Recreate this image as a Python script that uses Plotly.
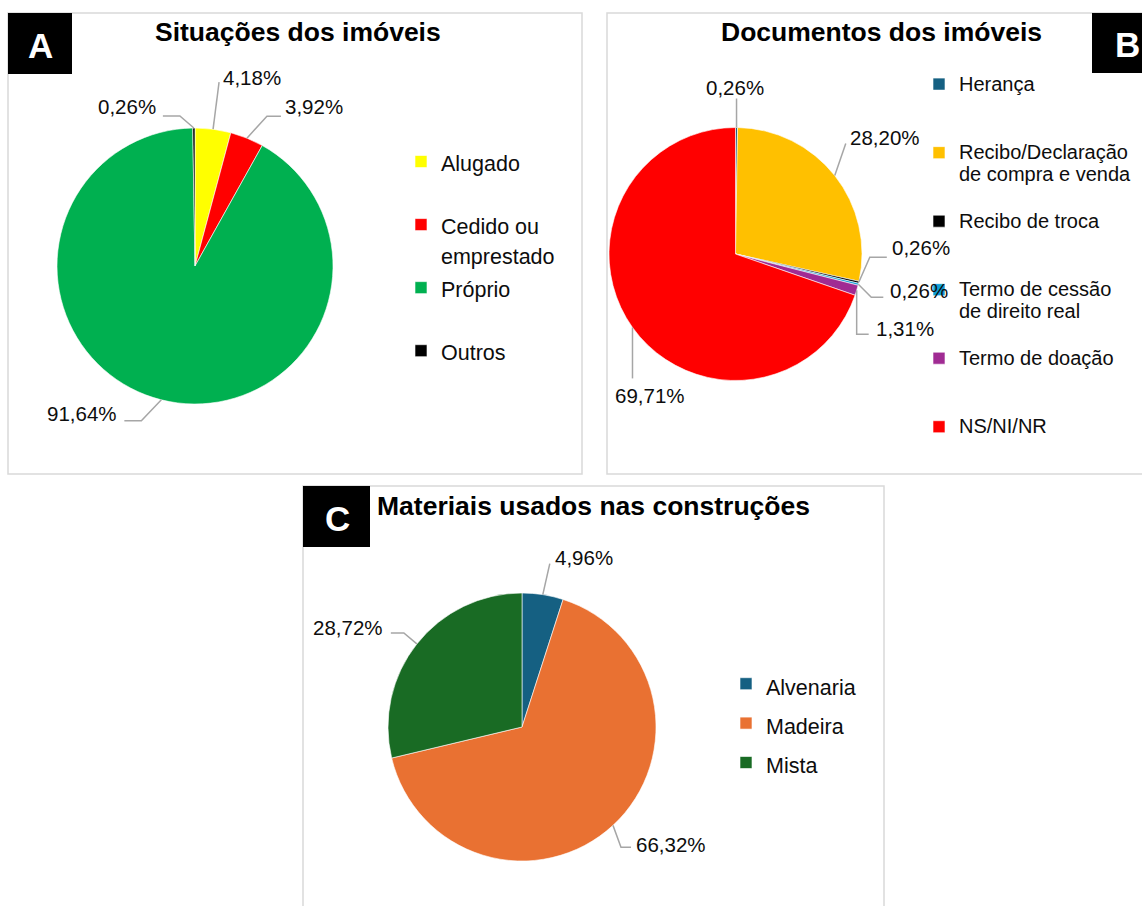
import math
import plotly.graph_objects as go

# ---------------- data ----------------
cat_A = ["Alugado", "Cedido ou emprestado", "Próprio", "Outros"]
val_A = [4.18, 3.92, 91.64, 0.26]

cat_B = ["Herança", "Recibo/Declaração de compra e venda", "Recibo de troca",
         "Termo de cessão de direito real", "Termo de doação", "NS/NI/NR"]
val_B = [0.26, 28.20, 0.26, 0.26, 1.31, 69.71]

cat_C = ["Alvenaria", "Madeira", "Mista"]
val_C = [4.96, 66.32, 28.72]

title_A = "Situações dos imóveis"
title_B = "Documentos dos imóveis"
title_C = "Materiais usados nas construções"

# ---------------- style ----------------
W, H = 1142, 906
FONT = "Liberation Sans, Arial, sans-serif"
TXT = "#0d0d0d"
LEADER = "#A6A6A6"
NB = "\u00a0"

col_A = ["#FFFF00", "#FF0000", "#00B050", "#000000"]
col_B = ["#156082", "#FFC000", "#000000", "#0F9ED5", "#A02B93", "#FF0000"]
col_C = ["#156082", "#E97132", "#196B24"]

# legend line wrapping (display only)
wrap = {
    "Alugado": ["Alugado", NB],
    "Cedido ou emprestado": ["Cedido ou", "emprestado"],
    "Próprio": ["Próprio", NB],
    "Outros": ["Outros", NB],
    "Herança": ["Herança", NB, NB],
    "Recibo/Declaração de compra e venda": ["Recibo/Declaração", "de compra e venda", NB],
    "Recibo de troca": ["Recibo de troca", NB, NB],
    "Termo de cessão de direito real": ["Termo de cessão", "de direito real", NB],
    "Termo de doação": ["Termo de doação", NB, NB],
    "NS/NI/NR": ["NS/NI/NR", NB, NB],
}


def leg_label(c, size):
    lines = wrap.get(c, [c])
    return "<br>".join(f"<span style='font-size:{size}px'>{l}</span>" for l in lines)


# pie geometry in pixels (center x, center y, radius)
geo_A = (195, 266, 138)
geo_B = (735.5, 254, 126.5)
geo_C = (522, 727, 134)

# label leader style per slice: (bend dx, bend dy, horizontal run, text anchor, text dx, text dy)
lead_A = [(6, -47, 0, "left", 2, -5), (20, -22, 14, "left", 2, -10),
          (-20, 21, -17, "right", -5, -7), (-14, -12, -17, "right", -5, -10)]
lead_B = [(0, -29, 0, "center", -2, -11), (11, -32, 0, "left", 2, -6),
          (11, -25, 17, "left", 3, -10), (13, 13, 12, "left", 5, -7),
          (0, 44, 12, "left", 5, -6), (0, 51, 0, "center", 18, 17)]
lead_C = [(7, -31, 0, "left", 3, -6), (8, 22, 10, "left", 3, -3), (-13, -11, -13, "right", -6, -5)]


def px2x(px):
    return px / W


def px2y(py):
    return 1 - py / H


def domain(geo):
    cx, cy, r = geo
    return dict(x=[px2x(cx - r), px2x(cx + r)], y=[px2y(cy + r), px2y(cy - r)])


def fmt(v):
    return f"{v:.2f}".replace(".", ",") + "%"


def path(points):
    return "M " + " L ".join(f"{px2x(x):.5f},{px2y(y):.5f}" for x, y in points)


fig = go.Figure()
shapes = []


def add_pie(cats, vals, cols, geo, legend_id, leads, leg_size):
    fig.add_trace(go.Pie(
        labels=[leg_label(c, leg_size) for c in cats],
        values=vals,
        marker=dict(colors=cols, line=dict(color="white", width=0.6)),
        sort=False,
        direction="clockwise",
        rotation=0,
        textinfo="none",
        domain=domain(geo),
        legend=legend_id,
        showlegend=True,
        hovertemplate="%{value}%<extra></extra>",
    ))
    # data labels with elbow leader lines, anchored at slice mid-angle on the rim
    cx, cy, r = geo
    total = sum(vals)
    cum = 0.0
    for v, (bx, by, hx, anc, tx, ty) in zip(vals, leads):
        mid = (cum + v / 2) / total * 2 * math.pi
        cum += v
        ex = cx + r * math.sin(mid)
        ey = cy - r * math.cos(mid)
        bend = (ex + bx, ey + by)
        end = (bend[0] + hx, bend[1])
        shapes.append(dict(type="path", xref="paper", yref="paper",
                           path=path([(ex, ey), bend, end]),
                           line=dict(color=LEADER, width=1.5), layer="above"))
        fig.add_annotation(
            x=px2x(end[0]), y=px2y(end[1]), xref="paper", yref="paper",
            xanchor=anc, yanchor="middle", xshift=tx, yshift=-ty,
            text=fmt(v), showarrow=False,
            font=dict(family=FONT, size=20.5, color=TXT),
        )


add_pie(cat_A, val_A, col_A, geo_A, "legend", lead_A, 21.5)
add_pie(cat_B, val_B, col_B, geo_B, "legend2", lead_B, 20)
add_pie(cat_C, val_C, col_C, geo_C, "legend3", lead_C, 21.5)

# panel frames (B is cut at the right edge, C at the bottom edge)
frame = dict(type="path", xref="paper", yref="paper", line=dict(color="#D9D9D9", width=1.5),
             layer="below")
shapes += [
    dict(type="rect", xref="paper", yref="paper", line=dict(color="#D9D9D9", width=1.5),
         layer="below", x0=px2x(8), x1=px2x(582), y0=px2y(474), y1=px2y(13)),
    dict(frame, path=path([(1142, 13), (607, 13), (607, 474), (1142, 474)])),
    dict(frame, path=path([(303, 906), (303, 486), (884, 486), (884, 906)])),
]
box = dict(type="rect", xref="paper", yref="paper", line=dict(width=0), fillcolor="black", layer="above")
shapes += [
    dict(box, x0=px2x(8), x1=px2x(72), y0=px2y(74), y1=px2y(13)),
    dict(box, x0=px2x(1092), x1=px2x(1142), y0=px2y(73), y1=px2y(13)),
    dict(box, x0=px2x(303), x1=px2x(370), y0=px2y(547), y1=px2y(486)),
]

# panel letters and titles
for letter, lx, ly in [("A", 40, 45), ("B", 1127, 44), ("C", 337, 518)]:
    fig.add_annotation(x=px2x(lx), y=px2y(ly), xref="paper", yref="paper", showarrow=False,
                       xanchor="center", yanchor="middle",
                       text=f"<b>{letter}</b>", font=dict(family=FONT, size=35, color="white"))
for t, tx, ty in [(title_A, 298, 32), (title_B, 881, 32), (title_C, 593, 506)]:
    fig.add_annotation(x=px2x(tx), y=px2y(ty), xref="paper", yref="paper", showarrow=False,
                       xanchor="center", yanchor="middle",
                       text=f"<b>{t}</b>", font=dict(family=FONT, size=26.5, color="black"))

leg_common = dict(xanchor="left", yanchor="top", valign="top", itemwidth=30,
                  bgcolor="rgba(0,0,0,0)", itemclick=False, itemdoubleclick=False)

fig.update_layout(
    width=W, height=H,
    margin=dict(l=0, r=0, t=0, b=0, autoexpand=False),
    paper_bgcolor="white", plot_bgcolor="white",
    font=dict(family=FONT, color=TXT),
    shapes=shapes,
    legend=dict(leg_common, x=px2x(401), y=px2y(140), font=dict(family=FONT, size=23.1, color=TXT)),
    legend2=dict(leg_common, x=px2x(919), y=px2y(66.7), font=dict(family=FONT, size=16.8, color=TXT)),
    legend3=dict(leg_common, x=px2x(726), y=px2y(659), font=dict(family=FONT, size=28, color=TXT)),
)

post = (
    "document.documentElement.style.margin='0';"
    "document.documentElement.style.overflow='hidden';"
    "document.body.style.margin='0';"
    "document.body.style.overflow='hidden';"
    "document.querySelectorAll('.plotly-graph-div, .svg-container').forEach(function(d){d.style.overflow='hidden';});"
)
fig.write_html("out.html", config={"displayModeBar": False, "responsive": False}, post_script=post)
